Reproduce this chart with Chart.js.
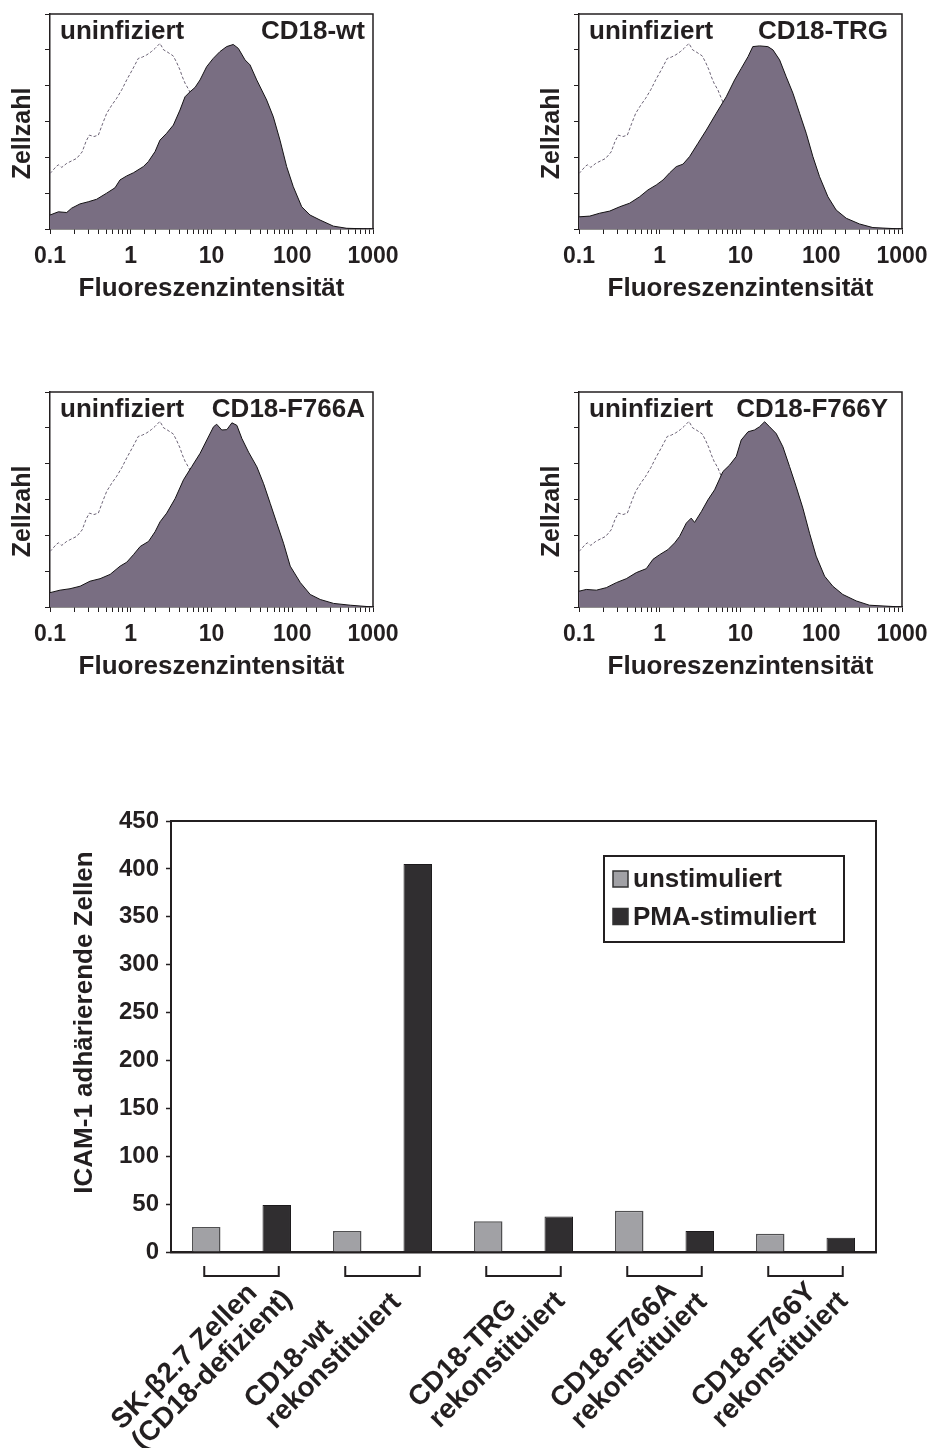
<!DOCTYPE html>
<html>
<head>
<meta charset="utf-8">
<title>CD18-Expression und ICAM-1-Adhäsion</title>
<script src="https://cdn.jsdelivr.net/npm/chart.js@4.4.1/dist/chart.umd.min.js"></script>
<style>
  html, body { margin: 0; padding: 0; background: #fff; }
  body { width: 940px; height: 1448px; position: relative; overflow: hidden; }
  canvas { position: absolute; }
</style>
</head>
<body>
<canvas id="histWt"   width="411" height="320" style="left:0px;top:0px;width:411px;height:320px"></canvas>
<canvas id="histTrg"  width="411" height="320" style="left:529px;top:0px;width:411px;height:320px"></canvas>
<canvas id="histF766A" width="411" height="320" style="left:0px;top:378px;width:411px;height:320px"></canvas>
<canvas id="histF766Y" width="411" height="320" style="left:529px;top:378px;width:411px;height:320px"></canvas>
<canvas id="adhesion" width="940" height="668" style="left:0px;top:780px;width:940px;height:668px"></canvas>

<script>
// ---- Durchflusszytometrie: Fluoreszenzintensität (log) und Zellzahl ----
// Kontrolle (uninfizierte Zellen), in allen vier Histogrammen gleich
const uninfI = [0.1, 0.105, 0.12, 0.127, 0.14, 0.161, 0.185, 0.214, 0.25, 0.28, 0.307, 0.35, 0.397, 0.45, 0.504, 0.58, 0.67, 0.78, 0.891, 1.05, 1.24, 1.4, 1.58, 1.8, 2.0, 2.3, 2.55, 2.79, 3.36, 3.7, 4.07, 4.35, 4.7, 5.25, 5.78, 7, 9, 12, 18, 30, 60, 120, 1000];
const uninfN = [1.55, 1.60, 1.75, 1.79, 1.72, 1.83, 1.90, 1.97, 2.15, 2.45, 2.62, 2.58, 2.62, 2.95, 3.23, 3.45, 3.65, 3.90, 4.16, 4.45, 4.76, 4.80, 4.86, 4.95, 5.04, 5.18, 5.00, 4.95, 4.83, 4.65, 4.44, 4.25, 4.07, 3.88, 3.65, 3.2, 2.5, 1.7, 0.9, 0.35, 0.08, 0.01, 0];

const wtI = [0.1, 0.127, 0.161, 0.185, 0.235, 0.298, 0.378, 0.503, 0.638, 0.736, 0.89, 1.08, 1.43, 1.65, 2.0, 2.3, 2.78, 3.37, 4.07, 4.7, 5.42, 6.25, 7.21, 8.71, 10.5, 12.7, 15.4, 18.6, 21.5, 26, 30, 36.3, 48.2, 58.3, 70.5, 85.3, 103, 131, 166, 221, 323, 472, 1000];
const wtN = [0.39, 0.48, 0.46, 0.58, 0.70, 0.76, 0.83, 1.00, 1.15, 1.37, 1.48, 1.57, 1.74, 1.88, 2.16, 2.48, 2.67, 2.90, 3.32, 3.69, 3.83, 3.95, 4.16, 4.53, 4.76, 4.95, 5.09, 5.15, 5.04, 4.72, 4.58, 4.16, 3.60, 3.13, 2.48, 1.74, 1.18, 0.62, 0.39, 0.25, 0.08, 0.02, 0];

const trgI = [0.1, 0.136, 0.18, 0.24, 0.319, 0.424, 0.563, 0.714, 0.906, 1.1, 1.33, 1.6, 1.94, 2.34, 2.97, 3.77, 5.01, 6.66, 8.45, 10.2, 12.4, 14.2, 17.2, 21.8, 25.2, 30.5, 36.8, 44.6, 53.9, 65.2, 78.8, 95.3, 121, 153, 204, 298, 436, 1000];
const trgN = [0.34, 0.36, 0.44, 0.50, 0.62, 0.72, 0.90, 1.09, 1.23, 1.37, 1.57, 1.74, 1.81, 2.02, 2.39, 2.76, 3.23, 3.69, 4.16, 4.48, 4.81, 5.09, 5.11, 5.09, 5.00, 4.72, 4.25, 3.79, 3.23, 2.67, 2.02, 1.46, 0.90, 0.53, 0.30, 0.14, 0.04, 0];

const f766aI = [0.1, 0.133, 0.177, 0.236, 0.313, 0.417, 0.555, 0.738, 0.892, 1.08, 1.31, 1.66, 2.0, 2.31, 2.79, 3.55, 4.5, 5.7, 7.23, 8.75, 10.6, 11.6, 13.4, 15.5, 17.9, 20.6, 23.8, 28.8, 36.5, 44.2, 53.4, 64.6, 78, 94.4, 126, 167, 222, 325, 523, 1000];
const f766aN = [0.40, 0.47, 0.51, 0.58, 0.72, 0.79, 0.91, 1.14, 1.25, 1.46, 1.69, 1.83, 2.10, 2.38, 2.62, 3.03, 3.55, 3.92, 4.29, 4.66, 5.03, 5.10, 4.94, 4.95, 5.14, 5.07, 4.70, 4.32, 3.91, 3.44, 2.89, 2.33, 1.78, 1.14, 0.68, 0.35, 0.21, 0.10, 0.05, 0];

const f766yI = [0.1, 0.123, 0.164, 0.218, 0.29, 0.385, 0.513, 0.681, 0.824, 0.996, 1.26, 1.53, 1.76, 2.13, 2.45, 2.7, 3.27, 3.95, 4.78, 6.06, 7.33, 8.86, 10.2, 12.4, 14.9, 17.2, 19.9, 22.9, 27.7, 33.5, 40.5, 48.9, 59.2, 71.6, 86.5, 110, 139, 185, 271, 395, 1000];
const f766yN = [0.44, 0.49, 0.47, 0.54, 0.68, 0.79, 0.96, 1.07, 1.33, 1.46, 1.60, 1.79, 1.97, 2.34, 2.48, 2.36, 2.66, 2.99, 3.27, 3.78, 3.96, 4.20, 4.66, 4.89, 4.94, 5.03, 5.17, 5.03, 4.84, 4.47, 3.92, 3.36, 2.76, 2.06, 1.42, 0.86, 0.58, 0.35, 0.17, 0.05, 0];

const intensityDecades = [0.1, 1, 10, 100, 1000];

// ---- Adhäsion an ICAM-1 ----
const cellLines = [
  ['SK-β2.7 Zellen', '(CD18-defizient)'],
  ['CD18-wt', 'rekonstituiert'],
  ['CD18-TRG', 'rekonstituiert'],
  ['CD18-F766A', 'rekonstituiert'],
  ['CD18-F766Y', 'rekonstituiert']
];
const unstimuliert   = [26, 22, 32, 43, 19];
const pmaStimuliert  = [49, 405, 37, 22, 15];
const adhesionMax  = 450;
const adhesionStep = 50;

// ---- shared look ----
const INK = '#231f20';
const FONT = "'Liberation Sans', Arial, Helvetica, sans-serif";
Chart.defaults.font.family = FONT;
Chart.defaults.font.weight = 'bold';
Chart.defaults.color = INK;
Chart.defaults.animation = false;

// closes the plot box on the top and right side
const frame = {
  id: 'frame',
  afterDraw(chart, args, o) {
    const { ctx, chartArea: a } = chart;
    ctx.save();
    ctx.strokeStyle = INK;
    ctx.lineWidth = o.width;
    ctx.beginPath();
    ctx.moveTo(a.left, a.top);
    ctx.lineTo(a.right, a.top);
    ctx.lineTo(a.right, a.bottom);
    ctx.stroke();
    ctx.restore();
  }
};

// vertical axis caption, set beside the value axis and slightly off its middle
const sideTitle = {
  id: 'sideTitle',
  afterDraw(chart, args, o) {
    const { ctx, chartArea: a } = chart;
    ctx.save();
    ctx.font = 'bold ' + o.size + 'px ' + FONT;
    ctx.fillStyle = INK;
    ctx.textAlign = 'center';
    ctx.textBaseline = 'middle';
    ctx.translate(o.x, (a.top + a.bottom) / 2 + o.shift);
    ctx.rotate(-Math.PI / 2);
    ctx.fillText(o.text, 0, 0);
    ctx.restore();
  }
};

// "uninfiziert" on the left, construct name on the right, inside the plot box
const panelText = {
  id: 'panelText',
  afterDraw(chart, args, o) {
    const { ctx, chartArea: a } = chart;
    const ds = chart.data.datasets;
    ctx.save();
    ctx.font = 'bold 26px ' + FONT;
    ctx.fillStyle = INK;
    ctx.textBaseline = 'alphabetic';
    ctx.textAlign = 'left';
    ctx.fillText(ds[1].label, a.left + 10, a.top + 25);
    ctx.textAlign = 'right';
    ctx.fillText(ds[0].label, a.right - o.inset, a.top + 25);
    ctx.restore();
  }
};

function points(xs, ys) {
  return xs.map((v, i) => ({ x: v, y: ys[i] }));
}

function decadeLabel(v) {
  const l = Math.log10(v);
  return intensityDecades.some(d => Math.abs(Math.log10(d) - l) < 1e-6) ? String(+v.toPrecision(3)) : '';
}

function histogram(id, name, xs, ys, inset) {
  return new Chart(document.getElementById(id), {
    type: 'line',
    data: {
      datasets: [
        { label: name, data: points(xs, ys), fill: 'origin', backgroundColor: '#796e82',
          borderColor: '#141214', borderWidth: 1, pointRadius: 0, tension: 0 },
        { label: 'uninfiziert', data: points(uninfI, uninfN), fill: false,
          borderColor: '#6b6275', borderWidth: 1, borderDash: [3, 2], pointRadius: 0, tension: 0 }
      ]
    },
    options: {
      responsive: false,
      animation: false,
      events: [],
      layout: { padding: { top: 14, right: 38, left: 0, bottom: 0 } },
      plugins: {
        legend: { display: false },
        tooltip: { enabled: false },
        frame: { width: 1.5 },
        panelText: { inset: inset },
        sideTitle: { text: 'Zellzahl', size: 25, x: 23.5, shift: 12 }
      },
      scales: {
        x: {
          type: 'logarithmic', min: 0.1, max: 1000,
          afterFit: s => { s.height = 91; },
          grid: { drawOnChartArea: false, tickLength: 5, tickColor: INK, tickWidth: 1 },
          border: { color: INK, width: 1.5 },
          ticks: { autoSkip: false, maxRotation: 0, minRotation: 0, padding: 9,
                   font: { size: 23, weight: 'bold' }, color: INK, callback: v => decadeLabel(v) },
          title: { display: true, text: 'Fluoreszenzintensität', color: INK,
                   font: { size: 26, weight: 'bold' }, padding: { top: 0, bottom: 16 } }
        },
        y: {
          min: 0, max: 6,
          afterFit: s => { s.width = 50; },
          grid: { drawOnChartArea: false, tickLength: 5, tickColor: INK, tickWidth: 1 },
          border: { color: INK, width: 1.5 },
          ticks: { stepSize: 1, display: false }
        }
      }
    },
    plugins: [frame, panelText, sideTitle]
  });
}

histogram('histWt', 'CD18-wt', wtI, wtN, 8);
histogram('histTrg', 'CD18-TRG', trgI, trgN, 14);
histogram('histF766A', 'CD18-F766A', f766aI, f766aN, 8);
histogram('histF766Y', 'CD18-F766Y', f766yI, f766yN, 14);

// boxed legend in the upper right of the bar plot
const legendBox = {
  id: 'legendBox',
  afterDraw(chart) {
    const { ctx, chartArea: a } = chart;
    const w = 240, h = 86;
    const x0 = a.right - 32 - w, y0 = a.top + 35;
    ctx.save();
    ctx.fillStyle = '#fff';
    ctx.fillRect(x0, y0, w, h);
    ctx.strokeStyle = INK;
    ctx.lineWidth = 2;
    ctx.strokeRect(x0, y0, w, h);
    ctx.font = 'bold 26px ' + FONT;
    ctx.textBaseline = 'middle';
    ctx.textAlign = 'left';
    chart.data.datasets.forEach((ds, i) => {
      const cy = y0 + 23 + i * 37.5;
      ctx.fillStyle = ds.backgroundColor;
      ctx.fillRect(x0 + 9, cy - 8, 15, 16);
      ctx.strokeStyle = '#333';
      ctx.lineWidth = 1.5;
      ctx.strokeRect(x0 + 9, cy - 8, 15, 16);
      ctx.fillStyle = INK;
      ctx.fillText(ds.label, x0 + 29, cy + 1);
    });
    ctx.restore();
  }
};

// brackets under each bar pair and the slanted two-line category names
const groupLabels = {
  id: 'groupLabels',
  afterDraw(chart, args, o) {
    const { ctx, chartArea: a, scales: { x } } = chart;
    const left = chart.getDatasetMeta(0).data;
    const right = chart.getDatasetMeta(1).data;
    const base = a.bottom;
    ctx.save();
    ctx.strokeStyle = INK;
    ctx.lineWidth = 2;
    ctx.fillStyle = INK;
    ctx.font = 'bold 28px ' + FONT;
    ctx.textAlign = 'left';
    ctx.textBaseline = 'alphabetic';
    chart.data.labels.forEach((lines, i) => {
      const l = left[i].x - 2, r = right[i].x + 2;
      ctx.beginPath();
      ctx.moveTo(l, base + 14);
      ctx.lineTo(l, base + 24);
      ctx.lineTo(r, base + 24);
      ctx.lineTo(r, base + 14);
      ctx.stroke();

      ctx.save();
      ctx.translate(x.getPixelForTick(i) - 83 + o.dx[i], base + 177 + o.dy[i]);
      ctx.rotate(-Math.PI / 4);
      lines.forEach((t, j) => ctx.fillText(t, 0, (j - (lines.length - 1)) * 29));
      ctx.restore();
    });
    ctx.restore();
  }
};

new Chart(document.getElementById('adhesion'), {
  type: 'bar',
  data: {
    labels: cellLines,
    datasets: [
      { label: 'unstimuliert', data: unstimuliert, backgroundColor: '#a1a1a5',
        borderColor: '#505052', borderWidth: 1.5 },
      { label: 'PMA-stimuliert', data: pmaStimuliert, backgroundColor: '#302e30',
        borderColor: '#1c1a1c', borderWidth: 1 }
    ]
  },
  options: {
    responsive: false,
    animation: false,
    events: [],
    datasets: { bar: { categoryPercentage: 1.0, barPercentage: 0.404 } },
    layout: { padding: { top: 41, right: 64, left: 0, bottom: 0 } },
    plugins: {
      legend: { display: false },
      tooltip: { enabled: false },
      frame: { width: 2 },
      groupLabels: { dx: [-16, -24, -1, 0, 0], dy: [22, 1, 0, 1, 0] },
      sideTitle: { text: 'ICAM-1 adhärierende Zellen', size: 26, x: 85, shift: -14 }
    },
    scales: {
      x: {
        afterFit: s => { s.height = 196; },
        grid: { display: false },
        border: { color: INK, width: 2.5 },
        ticks: { display: false }
      },
      y: {
        min: 0, max: adhesionMax,
        afterFit: s => { s.width = 171; },
        ticks: { stepSize: adhesionStep, padding: 7, color: INK, font: { size: 24, weight: 'bold' } },
        grid: { drawOnChartArea: false, tickLength: 5, tickColor: INK, tickWidth: 1.5 },
        border: { color: INK, width: 2 }
      }
    }
  },
  plugins: [frame, legendBox, groupLabels, sideTitle]
});
</script>
</body>
</html>
